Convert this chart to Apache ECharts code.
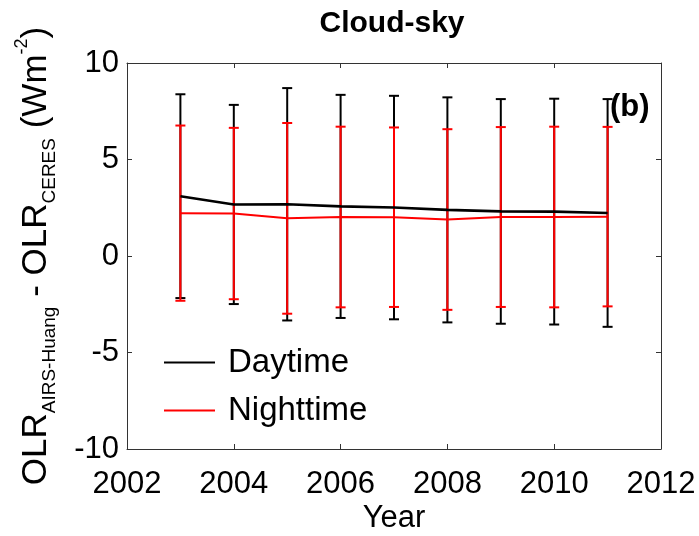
<!DOCTYPE html>
<html>
<head>
<meta charset="utf-8">
<script src="https://cdn.jsdelivr.net/npm/echarts@6/dist/echarts.min.js"></script>
<style>
  html, body { margin: 0; padding: 0; background: #fff; }
  #chart { width: 699px; height: 536px; }
</style>
</head>
<body>
<div id="chart"></div>
<script>
// Annual mean OLR difference (AIRS-Huang minus CERES), cloudy sky, with standard deviations
const years = [2003, 2004, 2005, 2006, 2007, 2008, 2009, 2010, 2011];
const dayMean = [3.10, 2.67, 2.68, 2.57, 2.51, 2.39, 2.31, 2.30, 2.23];
const dayStd = [5.28, 5.16, 6.02, 5.78, 5.79, 5.83, 5.82, 5.85, 5.90];
const nightMean = [2.22, 2.20, 1.95, 2.02, 2.01, 1.89, 2.02, 2.02, 2.04];
const nightStd = [4.54, 4.44, 4.94, 4.68, 4.65, 4.68, 4.66, 4.68, 4.65];
const seriesNames = ['Daytime', 'Nighttime'];
const xRange = [2002, 2012];
const xStep = 2;
const yRange = [-10, 10];
const yStep = 5;

const FONT = '"Liberation Sans", Arial, Helvetica, sans-serif';
const FRAME = '#333';

function toBars(mean, std) {
  return years.map((y, i) => [y, mean[i] - std[i], mean[i] + std[i]]);
}

function errorBars(color, width) {
  return function (params, api) {
    const x = api.value(0);
    const top = api.coord([x, api.value(2)]);
    const bot = api.coord([x, api.value(1)]);
    const hw = 5;
    const style = { stroke: color, lineWidth: width };
    return {
      type: 'group',
      children: [
        { type: 'line', shape: { x1: top[0], y1: top[1], x2: bot[0], y2: bot[1] }, style },
        { type: 'line', shape: { x1: top[0] - hw, y1: top[1], x2: top[0] + hw, y2: top[1] }, style },
        { type: 'line', shape: { x1: bot[0] - hw, y1: bot[1], x2: bot[0] + hw, y2: bot[1] }, style }
      ]
    };
  };
}

function pairs(mean) {
  return years.map((y, i) => [y, mean[i]]);
}

const axisCommon = {
  type: 'value',
  splitLine: { show: false },
  axisLine: { show: true, onZero: false, lineStyle: { color: FRAME, width: 1 } },
  axisTick: { show: true, inside: true, length: 5, lineStyle: { color: FRAME, width: 1 } }
};

const chart = echarts.init(document.getElementById('chart'), null, { renderer: 'canvas' });

chart.setOption({
  animation: false,
  backgroundColor: '#fff',
  grid: { left: 127, right: 38, top: 63, bottom: 87, outerBoundsMode: 'none' },
  xAxis: [
    Object.assign({}, axisCommon, {
      position: 'bottom', min: xRange[0], max: xRange[1], interval: xStep,
      axisLabel: { fontSize: 31, color: '#000', fontFamily: FONT, margin: 20, formatter: v => String(v) },
      name: 'Year', nameLocation: 'middle', nameGap: 54, nameMoveOverlap: false,
      nameTextStyle: { fontSize: 31, color: '#000', fontFamily: FONT }
    }),
    Object.assign({}, axisCommon, {
      position: 'top', min: xRange[0], max: xRange[1], interval: xStep,
      axisLabel: { show: false }
    })
  ],
  yAxis: [
    Object.assign({}, axisCommon, {
      position: 'left', min: yRange[0], max: yRange[1], interval: yStep,
      axisLabel: { fontSize: 31, color: '#000', fontFamily: FONT, margin: 8 },
      name: '{m|OLR}{s|AIRS-Huang}{m| - OLR}{s|CERES}{m| (Wm}{p|-2}{m|)}',
      nameLocation: 'middle', nameRotate: 90, nameGap: 68, nameMoveOverlap: false,
      nameTextStyle: {
        color: '#000',
        fontFamily: FONT,
        rich: {
          m: { fontSize: 35, lineHeight: 46, color: '#000', fontFamily: FONT },
          s: { fontSize: 19, lineHeight: 18, verticalAlign: 'bottom', color: '#000', fontFamily: FONT },
          p: { fontSize: 18, lineHeight: 18, verticalAlign: 'top', color: '#000', fontFamily: FONT }
        }
      }
    }),
    Object.assign({}, axisCommon, {
      position: 'right', min: yRange[0], max: yRange[1], interval: yStep,
      axisLabel: { show: false }
    })
  ],
  legend: {
    data: seriesNames,
    orient: 'vertical',
    left: 164,
    top: 346,
    itemWidth: 51,
    itemHeight: 2,
    itemGap: 15,
    padding: 0,
    icon: 'rect',
    textStyle: { fontSize: 33, color: '#000', fontFamily: FONT, padding: [6, 0, 0, 8] }
  },
  graphic: [
    {
      type: 'text', x: 392, y: 24,
      style: { text: 'Cloud-sky', font: 'bold 30px ' + FONT, fill: '#000', textAlign: 'center', textVerticalAlign: 'middle' }
    },
    {
      type: 'text', x: 610, y: 107, z: 10,
      style: { text: '(b)', font: 'bold 31px ' + FONT, fill: '#000', textAlign: 'left', textVerticalAlign: 'middle' }
    }
  ],
  series: [
    {
      name: 'Daytime spread', type: 'custom', xAxisIndex: 0, yAxisIndex: 0,
      renderItem: errorBars('#000', 2), data: toBars(dayMean, dayStd),
      encode: { x: 0, y: [1, 2] }, silent: true
    },
    {
      name: seriesNames[0], type: 'line', xAxisIndex: 0, yAxisIndex: 0,
      data: pairs(dayMean), symbol: 'none', color: '#000',
      lineStyle: { color: '#000', width: 2.6 }
    },
    {
      name: 'Nighttime spread', type: 'custom', xAxisIndex: 0, yAxisIndex: 0,
      renderItem: errorBars('#ff0000', 2), data: toBars(nightMean, nightStd),
      encode: { x: 0, y: [1, 2] }, silent: true
    },
    {
      name: seriesNames[1], type: 'line', xAxisIndex: 0, yAxisIndex: 0,
      data: pairs(nightMean), symbol: 'none', color: '#ff0000',
      lineStyle: { color: '#ff0000', width: 2 }
    }
  ]
});
</script>
</body>
</html>
